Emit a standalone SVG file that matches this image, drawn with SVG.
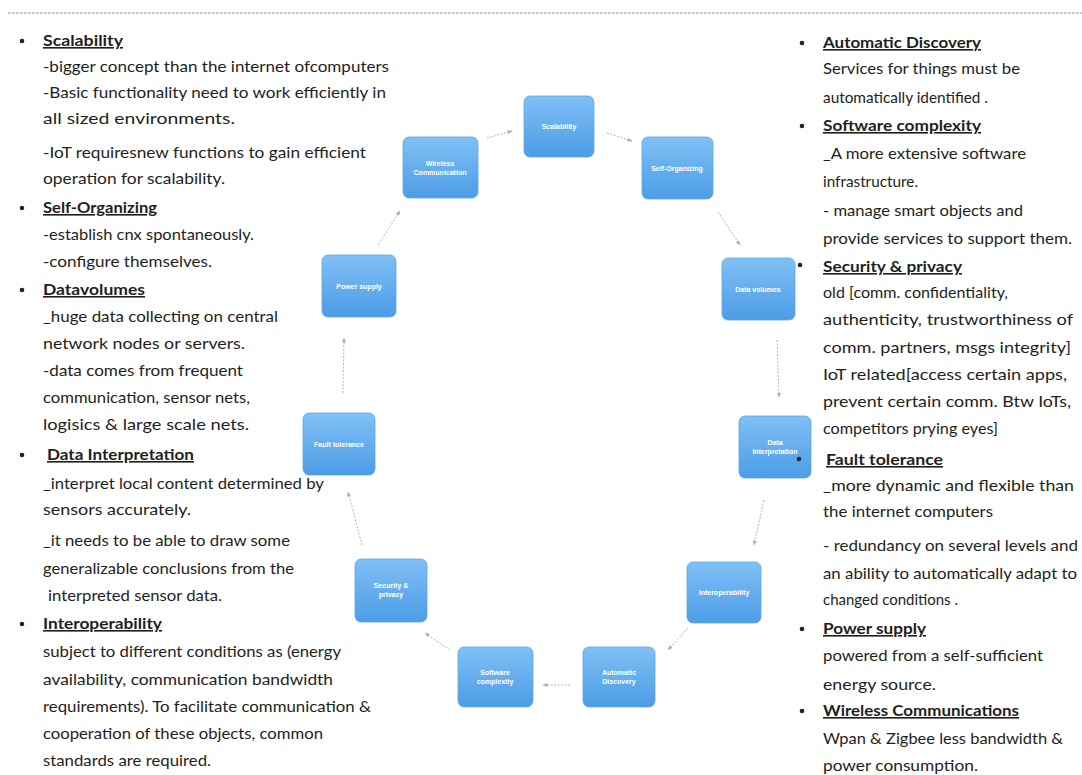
<svg xmlns="http://www.w3.org/2000/svg" width="1082" height="775" viewBox="0 0 1082 775">
  <defs>
    <linearGradient id="boxFill" x1="0" y1="0" x2="0" y2="1">
      <stop offset="0" stop-color="#80c0f6"/>
      <stop offset="1" stop-color="#4c9ce6"/>
    </linearGradient>
    <marker id="arrow" viewBox="0 0 10 10" refX="9" refY="5" markerWidth="5" markerHeight="5" orient="auto">
      <path d="M0,1 L10,5 L0,9 z" fill="#9fb0c2"/>
    </marker>
    <style>
      .box { fill: url(#boxFill); stroke: #5da6e6; stroke-width: 0.8; }
      .lbl { font-family: "Liberation Sans", Arial, sans-serif; font-size: 7px; font-weight: bold; fill: #ffffff; text-anchor: middle; }
      .conn { stroke: #a9b7c6; stroke-width: 1; stroke-dasharray: 2 1.5; fill: none; marker-end: url(#arrow); }
      .txt { font-family: Lato, "Liberation Sans", sans-serif; font-size: 16px; fill: #1e1e1e; }
      .hd { font-family: Lato, "Liberation Sans", sans-serif; font-size: 16px; font-weight: bold; fill: #1e1e1e; text-decoration: underline; }
      .bul { fill: #222222; }
    </style>
  </defs>

  <rect width="1082" height="775" fill="#ffffff"/>
  <!-- top rule -->
  <line x1="8" y1="13" x2="1082" y2="13" stroke="#9a9a9a" stroke-width="1" stroke-dasharray="3 1"/>

  <!-- cycle connectors -->
  <g id="connectors">
    <line class="conn" x1="607" y1="133" x2="632" y2="141"/>
    <line class="conn" x1="718" y1="212" x2="740" y2="245"/>
    <line class="conn" x1="777" y1="340" x2="779" y2="397"/>
    <line class="conn" x1="764" y1="500" x2="754" y2="545"/>
    <line class="conn" x1="688" y1="628" x2="668" y2="650"/>
    <line class="conn" x1="570" y1="685" x2="543" y2="685"/>
    <line class="conn" x1="450" y1="650" x2="425" y2="633"/>
    <line class="conn" x1="362" y1="545" x2="348" y2="492"/>
    <line class="conn" x1="343" y1="393" x2="344" y2="338"/>
    <line class="conn" x1="378" y1="245" x2="400" y2="211"/>
    <line class="conn" x1="487" y1="138" x2="512" y2="131"/>
  </g>

  <!-- cycle nodes -->
  <g id="n-scalability">
    <rect class="box" x="524" y="96" width="70" height="61" rx="6"/>
    <text class="lbl" x="559" y="129">Scalability</text>
  </g>
  <g id="n-self-organizing">
    <rect class="box" x="642" y="137" width="71" height="62" rx="6"/>
    <text class="lbl" x="677" y="171">Self-Organizing</text>
  </g>
  <g id="n-data-volumes">
    <rect class="box" x="722" y="258" width="73" height="62" rx="6"/>
    <text class="lbl" x="758" y="292">Data volumes</text>
  </g>
  <g id="n-data-interpretation">
    <rect class="box" x="739" y="416" width="72" height="62" rx="6"/>
    <text class="lbl" x="775" y="445">Data</text>
    <text class="lbl" x="775" y="454">Interpretation</text>
  </g>
  <g id="n-interoperability">
    <rect class="box" x="687" y="562" width="74" height="61" rx="6"/>
    <text class="lbl" x="724" y="595">Interoperability</text>
  </g>
  <g id="n-automatic-discovery">
    <rect class="box" x="583" y="647" width="72" height="60" rx="6"/>
    <text class="lbl" x="619" y="675">Automatic</text>
    <text class="lbl" x="619" y="684">Discovery</text>
  </g>
  <g id="n-software-complexity">
    <rect class="box" x="458" y="647" width="75" height="60" rx="6"/>
    <text class="lbl" x="495" y="675">Software</text>
    <text class="lbl" x="495" y="684">complexity</text>
  </g>
  <g id="n-security-privacy">
    <rect class="box" x="355" y="559" width="72" height="63" rx="6"/>
    <text class="lbl" x="391" y="588">Security &amp;</text>
    <text class="lbl" x="391" y="597">privacy</text>
  </g>
  <g id="n-fault-tolerance">
    <rect class="box" x="303" y="413" width="72" height="62" rx="6"/>
    <text class="lbl" x="339" y="447">Fault tolerance</text>
  </g>
  <g id="n-power-supply">
    <rect class="box" x="322" y="255" width="74" height="62" rx="6"/>
    <text class="lbl" x="359" y="289">Power supply</text>
  </g>
  <g id="n-wireless-communication">
    <rect class="box" x="403" y="137" width="75" height="61" rx="6"/>
    <text class="lbl" x="440" y="166">Wireless</text>
    <text class="lbl" x="440" y="175">Communication</text>
  </g>

  <!-- left column: feature notes -->
  <g id="left-notes">
    <circle class="bul" cx="22" cy="41" r="2.3"/>
    <circle class="bul" cx="22" cy="208" r="2.3"/>
    <circle class="bul" cx="22" cy="290" r="2.3"/>
    <circle class="bul" cx="22" cy="455" r="2.3"/>
    <circle class="bul" cx="22" cy="624" r="2.3"/>
    <text class="hd" x="43" y="46" textLength="80" lengthAdjust="spacingAndGlyphs">Scalability</text>
    <text class="txt" x="43" y="72" textLength="346" lengthAdjust="spacingAndGlyphs">-bigger concept than the internet ofcomputers</text>
    <text class="txt" x="43" y="98" textLength="343" lengthAdjust="spacingAndGlyphs">-Basic functionality need to work efficiently in</text>
    <text class="txt" x="43" y="124" textLength="192" lengthAdjust="spacingAndGlyphs">all sized environments.</text>
    <text class="txt" x="43" y="158" textLength="323" lengthAdjust="spacingAndGlyphs">-IoT requiresnew functions to gain efficient</text>
    <text class="txt" x="43" y="184" textLength="182" lengthAdjust="spacingAndGlyphs">operation for scalability.</text>
    <text class="hd" x="43" y="213" textLength="114" lengthAdjust="spacingAndGlyphs">Self-Organizing</text>
    <text class="txt" x="43" y="240" textLength="211" lengthAdjust="spacingAndGlyphs">-establish cnx spontaneously.</text>
    <text class="txt" x="43" y="267" textLength="169" lengthAdjust="spacingAndGlyphs">-configure themselves.</text>
    <text class="hd" x="43" y="295" textLength="102" lengthAdjust="spacingAndGlyphs">Datavolumes</text>
    <text class="txt" x="43" y="322" textLength="235" lengthAdjust="spacingAndGlyphs">_huge data collecting on central</text>
    <text class="txt" x="43" y="349" textLength="202" lengthAdjust="spacingAndGlyphs">network nodes or servers.</text>
    <text class="txt" x="43" y="376" textLength="200" lengthAdjust="spacingAndGlyphs">-data comes from frequent</text>
    <text class="txt" x="43" y="403" textLength="207" lengthAdjust="spacingAndGlyphs">communication, sensor nets,</text>
    <text class="txt" x="43" y="430" textLength="206" lengthAdjust="spacingAndGlyphs">logisics &amp; large scale nets.</text>
    <text class="hd" x="47" y="460" textLength="147" lengthAdjust="spacingAndGlyphs">Data Interpretation</text>
    <text class="txt" x="43" y="489" textLength="281" lengthAdjust="spacingAndGlyphs">_interpret local content determined by</text>
    <text class="txt" x="43" y="515" textLength="148" lengthAdjust="spacingAndGlyphs">sensors accurately.</text>
    <text class="txt" x="43" y="546" textLength="247" lengthAdjust="spacingAndGlyphs">_it needs to be able to draw some</text>
    <text class="txt" x="43" y="574" textLength="251" lengthAdjust="spacingAndGlyphs">generalizable conclusions from the</text>
    <text class="txt" x="48" y="601" textLength="174" lengthAdjust="spacingAndGlyphs">interpreted sensor data.</text>
    <text class="hd" x="43" y="629" textLength="119" lengthAdjust="spacingAndGlyphs">Interoperability</text>
    <text class="txt" x="43" y="657" textLength="298" lengthAdjust="spacingAndGlyphs">subject to different conditions as (energy</text>
    <text class="txt" x="43" y="685" textLength="290" lengthAdjust="spacingAndGlyphs">availability, communication bandwidth</text>
    <text class="txt" x="43" y="712" textLength="328" lengthAdjust="spacingAndGlyphs">requirements). To facilitate communication &amp;</text>
    <text class="txt" x="43" y="739" textLength="280" lengthAdjust="spacingAndGlyphs">cooperation of these objects, common</text>
    <text class="txt" x="43" y="766" textLength="168" lengthAdjust="spacingAndGlyphs">standards are required.</text>
  </g>

  <!-- right column: feature notes -->
  <g id="right-notes">
    <circle class="bul" cx="802" cy="43" r="2.3"/>
    <circle class="bul" cx="802" cy="126" r="2.3"/>
    <circle class="bul" cx="800" cy="265" r="2.3"/>
    <circle class="bul" cx="799" cy="459" r="2.3"/>
    <circle class="bul" cx="802" cy="629" r="2.3"/>
    <circle class="bul" cx="802" cy="711" r="2.3"/>
    <text class="hd" x="823" y="48" textLength="158" lengthAdjust="spacingAndGlyphs">Automatic Discovery</text>
    <text class="txt" x="823" y="74" textLength="197" lengthAdjust="spacingAndGlyphs">Services for things must be</text>
    <text class="txt" x="823" y="103" textLength="165" lengthAdjust="spacingAndGlyphs">automatically identified .</text>
    <text class="hd" x="823" y="131" textLength="158" lengthAdjust="spacingAndGlyphs">Software complexity</text>
    <text class="txt" x="823" y="159" textLength="203" lengthAdjust="spacingAndGlyphs">_A more extensive software</text>
    <text class="txt" x="823" y="187" textLength="95" lengthAdjust="spacingAndGlyphs">infrastructure.</text>
    <text class="txt" x="823" y="216" textLength="200" lengthAdjust="spacingAndGlyphs">- manage smart objects and</text>
    <text class="txt" x="823" y="244" textLength="249" lengthAdjust="spacingAndGlyphs">provide services to support them.</text>
    <text class="hd" x="823" y="272" textLength="139" lengthAdjust="spacingAndGlyphs">Security &amp; privacy</text>
    <text class="txt" x="823" y="298" textLength="185" lengthAdjust="spacingAndGlyphs">old [comm. confidentiality,</text>
    <text class="txt" x="823" y="325" textLength="250" lengthAdjust="spacingAndGlyphs">authenticity, trustworthiness  of</text>
    <text class="txt" x="823" y="353" textLength="248" lengthAdjust="spacingAndGlyphs">comm. partners, msgs integrity]</text>
    <text class="txt" x="823" y="380" textLength="244" lengthAdjust="spacingAndGlyphs">IoT related[access certain apps,</text>
    <text class="txt" x="823" y="407" textLength="248" lengthAdjust="spacingAndGlyphs">prevent certain comm. Btw IoTs,</text>
    <text class="txt" x="823" y="434" textLength="175" lengthAdjust="spacingAndGlyphs">competitors prying eyes]</text>
    <text class="hd" x="826" y="465" textLength="117" lengthAdjust="spacingAndGlyphs">Fault tolerance</text>
    <text class="txt" x="823" y="491" textLength="251" lengthAdjust="spacingAndGlyphs">_more dynamic and flexible than</text>
    <text class="txt" x="823" y="517" textLength="170" lengthAdjust="spacingAndGlyphs">the  internet computers</text>
    <text class="txt" x="823" y="551" textLength="255" lengthAdjust="spacingAndGlyphs">- redundancy on several levels and</text>
    <text class="txt" x="823" y="579" textLength="254" lengthAdjust="spacingAndGlyphs">an ability to automatically adapt to</text>
    <text class="txt" x="823" y="605" textLength="135" lengthAdjust="spacingAndGlyphs">changed conditions .</text>
    <text class="hd" x="823" y="634" textLength="103" lengthAdjust="spacingAndGlyphs">Power supply</text>
    <text class="txt" x="823" y="661" textLength="220" lengthAdjust="spacingAndGlyphs">powered from a self-sufficient</text>
    <text class="txt" x="823" y="690" textLength="113" lengthAdjust="spacingAndGlyphs">energy source.</text>
    <text class="hd" x="823" y="716" textLength="196" lengthAdjust="spacingAndGlyphs">Wireless Communications</text>
    <text class="txt" x="823" y="744" textLength="240" lengthAdjust="spacingAndGlyphs">Wpan &amp; Zigbee less bandwidth &amp;</text>
    <text class="txt" x="823" y="771" textLength="155" lengthAdjust="spacingAndGlyphs">power consumption.</text>
  </g>
</svg>
